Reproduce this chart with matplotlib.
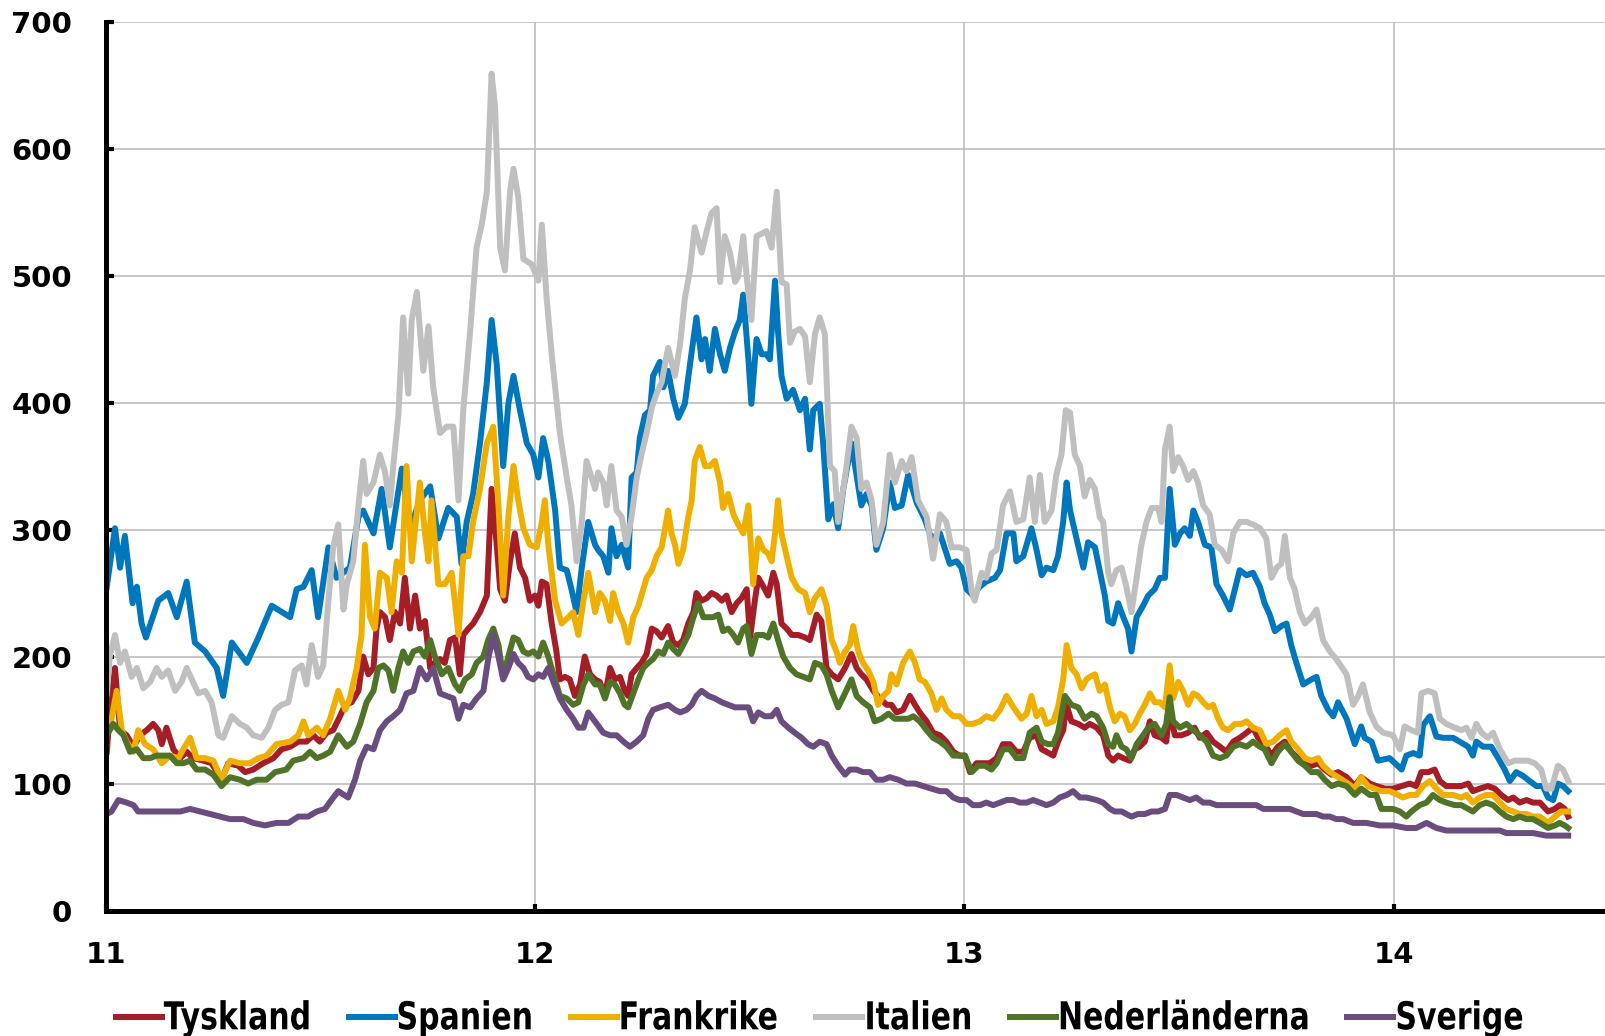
import matplotlib
matplotlib.use("Agg")
import matplotlib.pyplot as plt
from matplotlib.font_manager import FontProperties
from matplotlib.textpath import TextPath
from matplotlib.patches import PathPatch
from matplotlib.lines import Line2D
from matplotlib.transforms import Affine2D, IdentityTransform

# Räntespread (punkter), dagsdata; x i årstal där 11 = 2011
tyskland_x = [11.003, 11.010, 11.022, 11.034, 11.049, 11.065, 11.080, 11.096, 11.111, 11.123, 11.131, 11.142, 11.158, 11.174, 11.189, 11.204, 11.228, 11.247, 11.270, 11.286, 11.309, 11.325, 11.344, 11.367, 11.391, 11.410, 11.430, 11.449, 11.468, 11.484, 11.499, 11.515, 11.530, 11.546,
              11.558, 11.573, 11.589, 11.600, 11.612, 11.624, 11.631, 11.639, 11.651, 11.662, 11.674, 11.686, 11.697, 11.709, 11.721, 11.732, 11.744, 11.756, 11.767, 11.779, 11.790, 11.802, 11.814, 11.825, 11.833, 11.845, 11.856, 11.872, 11.888, 11.899, 11.911, 11.919, 11.930, 11.942, 11.953, 11.965, 11.977, 11.988, 12.000, 12.008, 12.016, 12.027, 12.039, 12.050, 12.058, 12.070, 12.081, 12.093, 12.105, 12.116, 12.128,
              12.140, 12.151, 12.163, 12.175, 12.186, 12.198, 12.209, 12.217, 12.225, 12.237, 12.248, 12.260, 12.272, 12.283, 12.295, 12.310, 12.322, 12.334, 12.345, 12.357, 12.369, 12.376, 12.388, 12.400, 12.411, 12.423, 12.435, 12.446, 12.458, 12.470, 12.481, 12.493, 12.501, 12.512, 12.520, 12.532, 12.543, 12.555, 12.563, 12.574, 12.586, 12.598, 12.613, 12.629, 12.640, 12.656, 12.667, 12.679, 12.691, 12.706,
              12.722, 12.737, 12.749, 12.760, 12.772, 12.788, 12.803, 12.819, 12.830, 12.842, 12.857, 12.873, 12.885, 12.896, 12.912, 12.927, 12.943, 12.958, 12.974, 12.989, 13.001, 13.013, 13.028, 13.044, 13.059, 13.075, 13.090, 13.106, 13.121, 13.137, 13.152, 13.168, 13.180, 13.191, 13.207, 13.218, 13.230, 13.238, 13.249, 13.265, 13.280, 13.292,
              13.308, 13.323, 13.335, 13.346, 13.358, 13.370, 13.385, 13.397, 13.408, 13.420, 13.432, 13.443, 13.459, 13.470, 13.478, 13.490, 13.505, 13.521, 13.536, 13.548, 13.564, 13.579, 13.595, 13.610, 13.626, 13.641, 13.657, 13.672, 13.684, 13.699, 13.715, 13.730, 13.746, 13.761, 13.777, 13.793, 13.808, 13.824, 13.839, 13.855, 13.870,
              13.890, 13.909, 13.924, 13.944, 13.959, 13.979, 13.998, 14.018, 14.037, 14.052, 14.064, 14.080, 14.095, 14.107, 14.122, 14.142, 14.157, 14.173, 14.184, 14.200, 14.219, 14.235, 14.250, 14.266, 14.278, 14.293, 14.309, 14.324, 14.340, 14.359, 14.375, 14.386, 14.398, 14.406]
tyskland_y = [125, 156, 191, 142, 138, 129, 138, 142, 147, 142, 131, 144, 127, 120, 125, 120, 118, 116, 103, 116, 114, 109, 111, 116, 120, 127, 129, 133, 133, 138, 133, 140, 142, 153,
              162, 164, 173, 200, 186, 191, 222, 235, 231, 213, 235, 226, 262, 222, 248, 222, 228, 191, 195, 198, 195, 213, 215, 186, 217, 222, 226, 235, 248, 332, 288, 253, 244, 275, 297, 270, 262, 244, 248, 240, 259, 257, 226, 204, 182, 184, 182, 169, 178, 200, 186,
              182, 180, 169, 191, 182, 184, 173, 169, 186, 191, 195, 202, 222, 220, 215, 224, 211, 209, 213, 226, 235, 250, 244, 246, 250, 248, 244, 248, 235, 242, 246, 253, 215, 244, 262, 255, 248, 266, 257, 226, 222, 217, 217, 215, 213, 233, 228, 191, 186, 182,
              191, 202, 191, 186, 182, 173, 167, 162, 162, 156, 158, 169, 162, 156, 149, 140, 138, 133, 125, 122, 122, 109, 116, 116, 116, 120, 131, 131, 125, 125, 136, 138, 127, 125, 122, 133, 142, 162, 149, 147, 144, 147,
              144, 138, 122, 118, 122, 120, 118, 127, 129, 133, 149, 138, 136, 133, 158, 138, 138, 140, 144, 136, 140, 133, 129, 125, 133, 136, 140, 144, 136, 131, 122, 129, 133, 125, 120, 118, 114, 116, 111, 107, 109,
              105, 98, 105, 100, 98, 96, 96, 98, 100, 98, 109, 109, 111, 102, 98, 98, 98, 100, 94, 96, 98, 96, 91, 87, 89, 85, 87, 85, 85, 78, 80, 83, 80, 74]

spanien_x = [11.003, 11.022, 11.034, 11.045, 11.063, 11.073, 11.084, 11.094, 11.123, 11.146, 11.166, 11.189, 11.208, 11.232, 11.259, 11.274, 11.294, 11.329, 11.356, 11.387, 11.430, 11.445, 11.461, 11.480, 11.495, 11.519, 11.538,
             11.569, 11.589, 11.600, 11.624, 11.643, 11.662, 11.690, 11.709, 11.732, 11.756, 11.775, 11.798, 11.818, 11.829, 11.841, 11.856, 11.872, 11.888, 11.899, 11.911, 11.926, 11.938, 11.950, 11.965, 11.981, 11.996, 12.008, 12.019, 12.031, 12.047, 12.058, 12.074, 12.085, 12.097, 12.109, 12.124,
             12.140, 12.147, 12.159, 12.171, 12.178, 12.190, 12.202, 12.217, 12.225, 12.237, 12.244, 12.256, 12.268, 12.275, 12.291, 12.299, 12.310, 12.322, 12.334, 12.349, 12.361, 12.376, 12.388, 12.396, 12.407, 12.419, 12.431, 12.442, 12.454, 12.466, 12.477, 12.485, 12.497, 12.504, 12.516, 12.528, 12.539, 12.547, 12.559, 12.566, 12.574, 12.586, 12.601, 12.617, 12.629, 12.640, 12.648, 12.663, 12.671, 12.683, 12.695, 12.706,
             12.718, 12.737, 12.760, 12.772, 12.784, 12.795, 12.811, 12.826, 12.838, 12.854, 12.869, 12.889, 12.908, 12.923, 12.943, 12.966, 12.982, 12.993, 13.005, 13.020, 13.036, 13.051, 13.071, 13.083, 13.098, 13.114, 13.121, 13.137, 13.156, 13.168, 13.180, 13.191, 13.207, 13.218, 13.230, 13.238, 13.246, 13.261, 13.277, 13.288,
             13.304, 13.315, 13.327, 13.335, 13.346, 13.358, 13.370, 13.381, 13.389, 13.401, 13.416, 13.428, 13.443, 13.455, 13.467, 13.478, 13.490, 13.502, 13.513, 13.525, 13.533, 13.544, 13.560, 13.575, 13.587, 13.602, 13.618, 13.630, 13.641, 13.657, 13.672, 13.688, 13.699, 13.711, 13.723, 13.738, 13.750, 13.761, 13.773, 13.789, 13.808, 13.820, 13.831, 13.847, 13.859, 13.870,
             13.890, 13.909, 13.924, 13.932, 13.948, 13.963, 13.990, 14.018, 14.029, 14.045, 14.060, 14.068, 14.084, 14.099, 14.115, 14.138, 14.153, 14.173, 14.184, 14.192, 14.208, 14.227, 14.243, 14.258, 14.270, 14.285, 14.301, 14.316, 14.332, 14.347, 14.359, 14.371, 14.382, 14.394, 14.406]
spanien_y = [255, 301, 270, 295, 242, 255, 226, 215, 244, 250, 231, 259, 211, 204, 191, 169, 211, 195, 215, 240, 231, 253, 255, 268, 231, 286, 262,
             270, 310, 315, 297, 332, 286, 348, 301, 323, 334, 293, 317, 310, 273, 306, 328, 368, 416, 465, 430, 350, 399, 421, 394, 368, 359, 341, 372, 354, 315, 270, 268, 253, 235, 270, 306,
             288, 284, 279, 266, 301, 279, 288, 270, 341, 345, 372, 390, 394, 421, 432, 412, 425, 403, 388, 399, 430, 467, 434, 450, 425, 458, 438, 425, 443, 456, 465, 485, 434, 399, 450, 438, 438, 434, 496, 456, 421, 403, 410, 394, 403, 363, 394, 399, 368, 308, 320, 301,
             332, 368, 319, 328, 319, 284, 301, 337, 317, 319, 343, 321, 308, 293, 297, 273, 275, 270, 253, 248, 255, 259, 262, 268, 297, 297, 275, 279, 301, 284, 264, 270, 268, 279, 306, 337, 315, 293, 270, 290,
             286, 268, 248, 228, 226, 242, 231, 222, 204, 231, 240, 248, 253, 262, 262, 332, 288, 297, 301, 295, 315, 306, 288, 286, 257, 248, 237, 253, 268, 264, 266, 255, 242, 233, 220, 224, 226, 209, 195, 178, 182, 184, 169, 158, 153, 164,
             151, 131, 145, 136, 133, 118, 120, 111, 122, 124, 122, 146, 153, 137, 136, 136, 133, 129, 122, 133, 129, 129, 120, 111, 102, 109, 106, 102, 98, 98, 89, 87, 100, 98, 94]

frankrike_x = [11.003, 11.014, 11.026, 11.038, 11.049, 11.065, 11.076, 11.092, 11.111, 11.131, 11.150, 11.170, 11.181, 11.197, 11.212, 11.232, 11.251, 11.270, 11.290, 11.313, 11.336, 11.356, 11.375, 11.398, 11.430, 11.449, 11.461, 11.472, 11.492, 11.507, 11.523, 11.542,
               11.558, 11.569, 11.585, 11.596, 11.604, 11.616, 11.627, 11.639, 11.655, 11.666, 11.678, 11.690, 11.701, 11.713, 11.721, 11.732, 11.744, 11.752, 11.759, 11.775, 11.790, 11.806, 11.822, 11.833, 11.845, 11.856, 11.872, 11.888, 11.903, 11.915, 11.926, 11.938, 11.950, 11.961, 11.973, 11.988, 12.004, 12.016, 12.023, 12.031, 12.047, 12.062, 12.078, 12.089, 12.101, 12.113, 12.124,
               12.140, 12.151, 12.163, 12.175, 12.182, 12.194, 12.206, 12.217, 12.229, 12.241, 12.248, 12.260, 12.272, 12.283, 12.295, 12.303, 12.310, 12.318, 12.326, 12.334, 12.345, 12.357, 12.365, 12.372, 12.384, 12.396, 12.407, 12.419, 12.431, 12.438, 12.450, 12.462, 12.473, 12.485, 12.497, 12.508, 12.520, 12.532, 12.543, 12.551, 12.559, 12.566, 12.574, 12.586, 12.598, 12.613, 12.629, 12.640, 12.652, 12.667, 12.679, 12.691, 12.702,
               12.710, 12.722, 12.733, 12.741, 12.753, 12.764, 12.776, 12.788, 12.799, 12.811, 12.823, 12.830, 12.842, 12.857, 12.873, 12.885, 12.896, 12.908, 12.923, 12.935, 12.947, 12.958, 12.974, 12.989, 13.005, 13.020, 13.036, 13.051, 13.067, 13.083, 13.098, 13.114, 13.133, 13.145, 13.156, 13.168, 13.180, 13.191, 13.207, 13.218, 13.230, 13.238, 13.249, 13.261, 13.273, 13.284,
               13.292, 13.304, 13.315, 13.327, 13.339, 13.350, 13.362, 13.373, 13.385, 13.397, 13.408, 13.420, 13.432, 13.443, 13.455, 13.467, 13.478, 13.486, 13.498, 13.509, 13.521, 13.533, 13.544, 13.556, 13.568, 13.579, 13.591, 13.602, 13.614, 13.630, 13.645, 13.657, 13.672, 13.688, 13.703, 13.719, 13.734, 13.750, 13.761, 13.777, 13.793, 13.808, 13.824, 13.835, 13.851, 13.866,
               13.893, 13.909, 13.924, 13.940, 13.955, 13.971, 13.990, 14.010, 14.021, 14.037, 14.052, 14.068, 14.084, 14.099, 14.115, 14.138, 14.157, 14.169, 14.184, 14.200, 14.215, 14.231, 14.247, 14.262, 14.278, 14.293, 14.309, 14.324, 14.340, 14.359, 14.375, 14.390, 14.406]
frankrike_y = [144, 151, 173, 142, 133, 125, 142, 131, 127, 116, 122, 120, 127, 136, 120, 120, 118, 103, 118, 116, 116, 120, 122, 131, 133, 138, 149, 138, 144, 138, 151, 173,
               158, 167, 191, 217, 288, 231, 222, 266, 262, 235, 275, 266, 350, 275, 301, 337, 297, 275, 323, 257, 257, 266, 217, 279, 279, 306, 332, 368, 381, 319, 248, 310, 350, 323, 301, 288, 286, 306, 323, 288, 244, 226, 231, 235, 217, 244, 266,
               235, 250, 244, 228, 250, 235, 226, 211, 231, 240, 248, 262, 268, 279, 286, 301, 315, 297, 288, 273, 284, 310, 323, 354, 365, 350, 350, 354, 337, 317, 328, 312, 304, 297, 319, 257, 293, 284, 281, 275, 297, 323, 297, 279, 262, 253, 250, 235, 246, 253, 240, 213, 204,
               195, 204, 209, 224, 204, 195, 189, 180, 162, 169, 173, 186, 178, 195, 204, 195, 182, 180, 171, 158, 167, 158, 153, 153, 147, 147, 149, 153, 151, 158, 169, 160, 151, 155, 169, 153, 158, 147, 149, 160, 182, 209, 191, 186, 175, 182,
               184, 186, 173, 178, 160, 149, 155, 153, 142, 147, 155, 162, 171, 164, 164, 160, 193, 167, 180, 173, 162, 171, 169, 164, 160, 162, 151, 144, 142, 147, 147, 149, 144, 142, 131, 133, 138, 142, 133, 127, 120, 118, 120, 114, 109, 106,
               100, 96, 105, 98, 96, 94, 94, 91, 89, 91, 91, 98, 102, 96, 91, 91, 89, 91, 85, 89, 91, 91, 85, 80, 78, 76, 76, 74, 74, 69, 74, 78, 78]

italien_x = [11.003, 11.010, 11.022, 11.034, 11.045, 11.061, 11.073, 11.088, 11.104, 11.119, 11.131, 11.146, 11.162, 11.177, 11.189, 11.201, 11.216, 11.232, 11.247, 11.263, 11.274, 11.294, 11.313, 11.329, 11.344, 11.364, 11.379, 11.395, 11.410, 11.426, 11.441, 11.457, 11.468, 11.480, 11.495, 11.507, 11.519, 11.530, 11.542,
             11.554, 11.562, 11.577, 11.589, 11.600, 11.608, 11.624, 11.639, 11.651, 11.662, 11.670, 11.682, 11.693, 11.705, 11.713, 11.725, 11.740, 11.752, 11.763, 11.779, 11.794, 11.810, 11.822, 11.833, 11.849, 11.864, 11.876, 11.888, 11.899, 11.907, 11.919, 11.930, 11.942, 11.950, 11.961, 11.973, 11.992, 12.008, 12.016, 12.027, 12.039, 12.058, 12.074, 12.085, 12.097, 12.109, 12.120,
             12.140, 12.147, 12.159, 12.167, 12.178, 12.190, 12.202, 12.213, 12.225, 12.237, 12.248, 12.260, 12.272, 12.283, 12.295, 12.310, 12.326, 12.338, 12.349, 12.361, 12.372, 12.388, 12.400, 12.411, 12.423, 12.431, 12.442, 12.454, 12.466, 12.473, 12.485, 12.493, 12.504, 12.516, 12.528, 12.539, 12.551, 12.563, 12.574, 12.586, 12.594, 12.605, 12.617, 12.629, 12.640, 12.652, 12.663, 12.675, 12.687, 12.698, 12.706,
             12.722, 12.737, 12.749, 12.760, 12.772, 12.784, 12.795, 12.811, 12.826, 12.838, 12.854, 12.865, 12.877, 12.892, 12.912, 12.927, 12.943, 12.958, 12.970, 12.989, 13.005, 13.017, 13.024, 13.040, 13.051, 13.063, 13.075, 13.090, 13.106, 13.121, 13.137, 13.152, 13.164, 13.176, 13.187, 13.203, 13.214, 13.226, 13.236, 13.246, 13.257, 13.269, 13.280, 13.292,
             13.304, 13.315, 13.323, 13.335, 13.342, 13.354, 13.366, 13.377, 13.389, 13.401, 13.412, 13.424, 13.436, 13.451, 13.459, 13.467, 13.478, 13.486, 13.498, 13.509, 13.521, 13.533, 13.544, 13.556, 13.571, 13.583, 13.599, 13.614, 13.626, 13.641, 13.657, 13.672, 13.688, 13.703, 13.715, 13.727, 13.738, 13.746, 13.758, 13.769, 13.781, 13.793, 13.808, 13.820, 13.835, 13.851, 13.866,
             13.890, 13.905, 13.917, 13.928, 13.944, 13.959, 13.975, 13.998, 14.014, 14.025, 14.041, 14.056, 14.064, 14.080, 14.095, 14.107, 14.122, 14.142, 14.157, 14.169, 14.181, 14.192, 14.204, 14.219, 14.231, 14.247, 14.266, 14.281, 14.297, 14.312, 14.328, 14.343, 14.355, 14.367, 14.382, 14.394, 14.406]
italien_y = [171, 200, 217, 195, 204, 184, 191, 175, 180, 191, 184, 189, 173, 180, 191, 182, 171, 173, 164, 138, 136, 153, 147, 144, 138, 136, 144, 158, 162, 164, 189, 193, 178, 209, 184, 193, 244, 286, 304,
             237, 257, 275, 319, 354, 328, 337, 359, 345, 319, 350, 390, 467, 407, 465, 487, 425, 460, 412, 376, 381, 381, 323, 394, 456, 522, 540, 566, 659, 633, 522, 504, 566, 584, 562, 513, 509, 496, 540, 483, 438, 376, 341, 319, 275, 306, 354,
             332, 345, 337, 319, 350, 315, 310, 288, 310, 341, 359, 376, 396, 407, 416, 443, 421, 446, 482, 504, 538, 518, 535, 549, 553, 495, 531, 518, 495, 499, 531, 499, 465, 531, 533, 535, 522, 566, 495, 493, 447, 456, 458, 452, 416, 454, 467, 454, 350, 346, 306,
             341, 381, 372, 332, 337, 323, 288, 306, 359, 337, 354, 346, 357, 323, 310, 277, 312, 306, 286, 286, 284, 251, 244, 266, 262, 281, 284, 319, 330, 306, 308, 341, 306, 343, 306, 315, 343, 359, 394, 392, 359, 350, 326, 339,
             332, 310, 306, 266, 257, 268, 270, 255, 235, 262, 288, 306, 317, 317, 306, 363, 381, 346, 357, 350, 339, 346, 337, 319, 312, 288, 284, 275, 297, 306, 306, 304, 301, 293, 262, 270, 273, 295, 262, 253, 235, 226, 231, 237, 213, 204, 198,
             186, 162, 169, 178, 156, 145, 140, 138, 127, 145, 142, 140, 171, 173, 171, 151, 147, 144, 142, 144, 136, 147, 140, 136, 140, 127, 116, 118, 118, 118, 116, 111, 96, 96, 114, 111, 102]

nederlanderna_x = [11.003, 11.018, 11.030, 11.042, 11.057, 11.073, 11.088, 11.104, 11.119, 11.135, 11.150, 11.166, 11.181, 11.197, 11.212, 11.232, 11.251, 11.270, 11.290, 11.313, 11.332, 11.352, 11.375, 11.395, 11.421, 11.437, 11.461, 11.476, 11.492, 11.507, 11.523, 11.542,
                   11.562, 11.577, 11.593, 11.608, 11.624, 11.635, 11.647, 11.659, 11.670, 11.682, 11.693, 11.705, 11.717, 11.732, 11.744, 11.756, 11.767, 11.783, 11.798, 11.814, 11.825, 11.837, 11.853, 11.864, 11.880, 11.891, 11.903, 11.915, 11.926, 11.938, 11.950, 11.961, 11.973, 11.984, 11.996, 12.008, 12.019, 12.031, 12.043, 12.058, 12.074, 12.089, 12.101, 12.113, 12.124,
                   12.140, 12.151, 12.163, 12.175, 12.186, 12.198, 12.209, 12.217, 12.229, 12.241, 12.252, 12.264, 12.275, 12.287, 12.299, 12.310, 12.322, 12.334, 12.345, 12.357, 12.369, 12.380, 12.392, 12.404, 12.415, 12.427, 12.438, 12.450, 12.462, 12.473, 12.485, 12.493, 12.504, 12.516, 12.532, 12.543, 12.555, 12.566, 12.578, 12.594, 12.609, 12.625, 12.640, 12.652, 12.667, 12.679, 12.691, 12.706,
                   12.722, 12.737, 12.749, 12.764, 12.780, 12.791, 12.807, 12.823, 12.838, 12.854, 12.869, 12.881, 12.896, 12.912, 12.927, 12.943, 12.958, 12.974, 12.989, 13.001, 13.017, 13.032, 13.048, 13.063, 13.075, 13.090, 13.106, 13.121, 13.137, 13.152, 13.168, 13.180, 13.195, 13.207, 13.218, 13.234, 13.249, 13.265, 13.280, 13.296,
                   13.308, 13.323, 13.335, 13.346, 13.354, 13.366, 13.377, 13.389, 13.401, 13.416, 13.428, 13.443, 13.459, 13.470, 13.478, 13.486, 13.502, 13.517, 13.533, 13.548, 13.564, 13.579, 13.595, 13.610, 13.626, 13.641, 13.657, 13.672, 13.688, 13.699, 13.715, 13.730, 13.746, 13.761, 13.777, 13.793, 13.808, 13.824, 13.839, 13.855, 13.870,
                   13.890, 13.909, 13.924, 13.944, 13.959, 13.971, 13.998, 14.014, 14.029, 14.041, 14.060, 14.076, 14.091, 14.107, 14.122, 14.142, 14.157, 14.173, 14.184, 14.200, 14.215, 14.231, 14.247, 14.262, 14.278, 14.293, 14.309, 14.324, 14.340, 14.359, 14.375, 14.386, 14.398, 14.406]
nederlanderna_y = [138, 147, 142, 138, 125, 127, 120, 120, 122, 122, 122, 116, 116, 118, 111, 111, 107, 98, 105, 103, 100, 103, 103, 109, 111, 118, 120, 125, 120, 122, 125, 138,
                   129, 133, 147, 164, 173, 191, 193, 189, 173, 191, 204, 195, 204, 206, 200, 213, 200, 186, 191, 178, 173, 182, 186, 195, 200, 213, 222, 209, 184, 200, 215, 213, 204, 202, 204, 200, 211, 200, 186, 169, 167, 162, 164, 178, 186,
                   178, 178, 167, 180, 178, 171, 162, 160, 171, 182, 191, 195, 198, 204, 202, 211, 206, 202, 209, 217, 231, 242, 231, 231, 231, 233, 220, 222, 217, 211, 222, 224, 202, 217, 217, 215, 226, 213, 200, 191, 186, 184, 182, 195, 193, 186, 173, 160,
                   171, 182, 169, 164, 160, 149, 151, 155, 151, 151, 151, 153, 149, 142, 136, 133, 129, 122, 122, 122, 109, 114, 114, 111, 116, 127, 127, 120, 120, 140, 144, 133, 131, 131, 140, 169, 162, 160, 151, 155,
                   153, 144, 131, 129, 138, 129, 127, 120, 131, 138, 144, 147, 138, 147, 168, 149, 144, 147, 142, 138, 133, 122, 120, 122, 129, 131, 129, 133, 129, 127, 116, 125, 131, 125, 118, 114, 109, 109, 103, 98, 100,
                   98, 91, 96, 91, 91, 80, 80, 78, 74, 78, 83, 85, 91, 87, 85, 83, 83, 80, 78, 83, 85, 83, 78, 74, 72, 74, 72, 72, 69, 65, 67, 69, 67, 65]

sverige_x = [11.003, 11.014, 11.030, 11.049, 11.065, 11.076, 11.100, 11.119, 11.150, 11.174, 11.197, 11.220, 11.243, 11.267, 11.290, 11.321, 11.344, 11.371, 11.398, 11.426, 11.449, 11.472, 11.492, 11.511, 11.526, 11.542,
             11.565, 11.581, 11.593, 11.608, 11.624, 11.639, 11.655, 11.670, 11.686, 11.701, 11.717, 11.732, 11.748, 11.763, 11.779, 11.794, 11.810, 11.822, 11.833, 11.849, 11.864, 11.880, 11.891, 11.903, 11.915, 11.926, 11.938, 11.950, 11.961, 11.973, 11.984, 11.996, 12.008, 12.019, 12.031, 12.043, 12.058, 12.074, 12.089, 12.101, 12.113, 12.124,
             12.144, 12.159, 12.175, 12.190, 12.206, 12.221, 12.237, 12.252, 12.264, 12.275, 12.291, 12.310, 12.326, 12.338, 12.353, 12.365, 12.376, 12.388, 12.404, 12.419, 12.435, 12.450, 12.466, 12.481, 12.497, 12.508, 12.520, 12.535, 12.551, 12.563, 12.574, 12.590, 12.605, 12.621, 12.636, 12.648, 12.663, 12.679, 12.691, 12.706,
             12.722, 12.733, 12.749, 12.764, 12.780, 12.795, 12.811, 12.826, 12.846, 12.865, 12.885, 12.904, 12.923, 12.943, 12.958, 12.974, 12.989, 13.005, 13.020, 13.036, 13.051, 13.067, 13.083, 13.098, 13.114, 13.129, 13.145, 13.160, 13.176, 13.191, 13.207, 13.222, 13.238, 13.253, 13.269, 13.284,
             13.308, 13.323, 13.339, 13.350, 13.366, 13.377, 13.389, 13.404, 13.420, 13.436, 13.451, 13.467, 13.478, 13.494, 13.509, 13.525, 13.540, 13.556, 13.571, 13.587, 13.602, 13.618, 13.633, 13.649, 13.665, 13.680, 13.696, 13.711, 13.727, 13.742, 13.758, 13.773, 13.789, 13.804, 13.820, 13.835, 13.851, 13.866,
             13.882, 13.905, 13.936, 13.967, 13.998, 14.029, 14.052, 14.076, 14.099, 14.122, 14.153, 14.184, 14.215, 14.247, 14.262, 14.293, 14.324, 14.355, 14.386, 14.406]
sverige_y = [76, 78, 87, 85, 83, 78, 78, 78, 78, 78, 80, 78, 76, 74, 72, 72, 69, 67, 69, 69, 74, 74, 78, 80, 87, 94,
             89, 103, 118, 129, 127, 142, 149, 153, 158, 171, 173, 191, 182, 191, 171, 169, 167, 151, 162, 160, 167, 173, 198, 217, 200, 182, 191, 202, 195, 191, 184, 182, 186, 184, 191, 180, 167, 158, 151, 144, 144, 156,
             147, 140, 138, 138, 133, 129, 133, 138, 151, 158, 160, 162, 158, 156, 158, 162, 169, 173, 169, 167, 164, 162, 160, 160, 160, 149, 156, 153, 153, 158, 149, 144, 140, 136, 131, 129, 133, 131, 122, 114,
             107, 111, 111, 109, 109, 103, 103, 105, 103, 100, 100, 98, 96, 94, 94, 89, 87, 87, 83, 83, 85, 83, 85, 87, 87, 85, 85, 87, 85, 83, 85, 89, 91, 94, 89, 89,
             87, 85, 80, 78, 78, 76, 74, 76, 76, 78, 78, 80, 91, 91, 89, 87, 89, 85, 85, 83, 83, 83, 83, 83, 83, 83, 80, 80, 80, 80, 80, 78, 76, 76, 76, 74, 74, 72,
             72, 69, 69, 67, 67, 65, 65, 69, 65, 63, 63, 63, 63, 63, 61, 61, 61, 59, 59, 59]

series = [
    ("Tyskland", tyskland_x, tyskland_y, "#A51D26"),
    ("Spanien", spanien_x, spanien_y, "#0076BD"),
    ("Frankrike", frankrike_x, frankrike_y, "#EFAF00"),
    ("Italien", italien_x, italien_y, "#BFBFBF"),
    ("Nederländerna", nederlanderna_x, nederlanderna_y, "#4F7327"),
    ("Sverige", sverige_x, sverige_y, "#6A4C7F"),
]

year_ticks = [11, 12, 13, 14]
year_labels = ["11", "12", "13", "14"]

LW = 4.3

fig = plt.figure(figsize=(16.06, 10.36), dpi=100)
ax = fig.add_axes([0.0657, 0.1211, 0.9343, 0.8581])

for name, xs, ys, color in series:
    ax.plot(xs, ys, color=color, lw=LW, solid_joinstyle="round", label=name)

ax.set_xlim(11, 14.494)
ax.set_ylim(0, 700)
ax.set_yticks(range(0, 701, 100))
ax.set_xticks(year_ticks)
ax.set_xticklabels(year_labels)

ax.set_axisbelow(True)
ax.grid(True, color="#BEBEBE", lw=1.2)

for side in ["top", "right"]:
    ax.spines[side].set_visible(False)
for side in ["left", "bottom"]:
    ax.spines[side].set_linewidth(3.6)
    ax.spines[side].set_color("black")

ax.tick_params(axis="y", direction="in", length=6, width=3, pad=24, labelsize=21)
ax.tick_params(axis="x", direction="in", length=5, width=3, pad=22, labelsize=21)
for lab in ax.get_xticklabels() + ax.get_yticklabels():
    lab.set_fontweight("bold")
    lab.set_family("DejaVu Sans")

# Legend along the bottom edge, narrow bold labels (DejaVu Sans Bold squeezed
# horizontally), laid out in pixel coordinates
label_prop = FontProperties(family="DejaVu Sans", weight="bold")
squeeze = 0.78
text_px = 38.4
handle_px = 46
x = 115.7
for name, _, _, color in series:
    fig.add_artist(Line2D([x, x + handle_px], [19, 19], color=color, lw=LW,
                          transform=IdentityTransform()))
    x += handle_px + 2
    path = TextPath((0, 0), name, size=text_px, prop=label_prop)
    fig.add_artist(PathPatch(path, facecolor="black", edgecolor="none",
                             transform=Affine2D().scale(squeeze, 1).translate(x, 6.7)))
    x += path.get_extents().x1 * squeeze + 40

fig.savefig("out.png", dpi=100)
